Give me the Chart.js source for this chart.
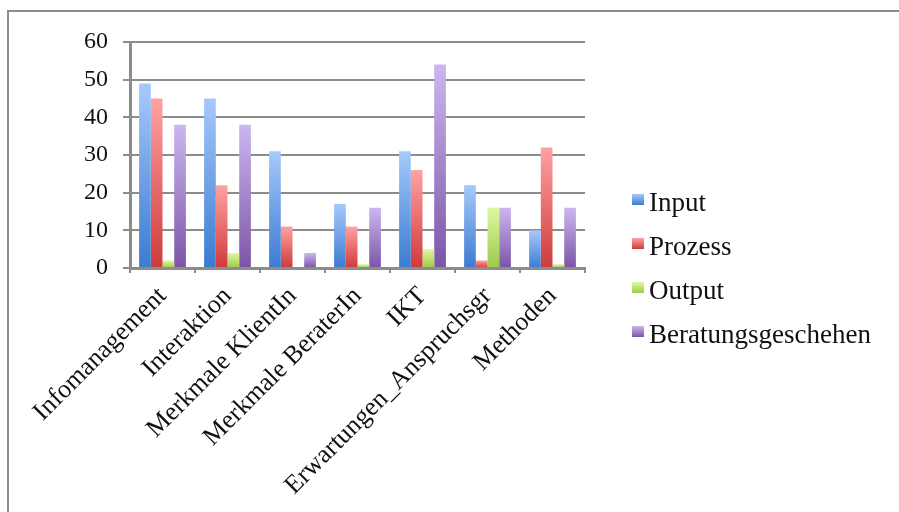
<!DOCTYPE html>
<html>
<head>
<meta charset="utf-8">
<script src="https://cdn.jsdelivr.net/npm/chart.js@4/dist/chart.umd.min.js"></script>
<style>
  html, body { margin: 0; padding: 0; background: #fff; overflow: hidden; }
  #wrap { position: relative; width: 899px; height: 512px; }
  #frame {
    position: absolute; left: 7px; top: 10px; width: 1000px; height: 600px;
    border-top: 2px solid #8c8c8c; border-left: 2px solid #8c8c8c;
  }
  #chart { position: absolute; left: 0; top: 0; }
  #legend {
    position: absolute; left: 632px; top: 189px;
    font-family: 'Liberation Serif', 'Times New Roman', serif;
    font-size: 27px; color: #111;
  }
  #legend .item { display: flex; align-items: center; height: 26px; margin-bottom: 18px; white-space: nowrap; }
  #legend .box { width: 12px; height: 11px; margin-right: 5px; margin-top: -6px; }
</style>
</head>
<body>
<div id="wrap">
  <div id="frame"></div>
  <canvas id="chart" width="899" height="512"></canvas>
  <div id="legend"></div>
</div>
<script>
const categories = [
  "Infomanagement",
  "Interaktion",
  "Merkmale KlientIn",
  "Merkmale BeraterIn",
  "IKT",
  "Erwartungen_Anspruchsgr",
  "Methoden",
];
const seriesNames = ["Input", "Prozess", "Output", "Beratungsgeschehen"];
const inputValues = [49, 45, 31, 17, 31, 22, 10];
const prozessValues = [45, 22, 11, 11, 26, 2, 32];
const outputValues = [2, 4, 0, 1, 5, 16, 1];
const beratungValues = [38, 38, 4, 16, 54, 16, 16];
const yTicks = [0, 10, 20, 30, 40, 50, 60];

// light top, dark bottom, like the office-style bars
const seriesColors = [
  ["#a6c9fb", "#3b7bd1"],
  ["#ffa2a2", "#cf3a3a"],
  ["#ddf8a2", "#9cca48"],
  ["#ccb6ef", "#7b55a6"],
];

function barFill(top, bottom) {
  return (ctx) => {
    const chart = ctx.chart;
    if (ctx.type !== "data" || !chart.chartArea) return bottom;
    const y = chart.scales.y;
    const y0 = y.getPixelForValue(ctx.raw);
    const y1 = y.getPixelForValue(0);
    if (y1 - y0 < 1) return bottom;
    const g = chart.ctx.createLinearGradient(0, y0, 0, y1);
    g.addColorStop(0, top);
    g.addColorStop(1, bottom);
    return g;
  };
}

const allValues = [inputValues, prozessValues, outputValues, beratungValues];
const serif = "'Liberation Serif', 'Times New Roman', serif";

const chart = new Chart(document.getElementById("chart"), {
  type: "bar",
  data: {
    labels: categories,
    datasets: seriesNames.map((name, i) => ({
      label: name,
      data: allValues[i],
      backgroundColor: barFill(seriesColors[i][0], seriesColors[i][1]),
      borderWidth: 0,
      categoryPercentage: 0.72,
      barPercentage: 1,
    })),
  },
  options: {
    responsive: false,
    animation: false,
    layout: { padding: { left: 0, top: 42, right: 314, bottom: 0 } },
    plugins: {
      tooltip: { enabled: false },
      legend: { display: false },
    },
    scales: {
      y: {
        min: 0,
        max: 60,
        afterBuildTicks: (s) => { s.ticks = yTicks.map((v) => ({ value: v })); },
        afterFit: (s) => { s.width = 130; },
        ticks: {
          color: "#111",
          padding: 15,
          font: { family: serif, size: 24 },
        },
        grid: { color: "#8c8c8c", lineWidth: 2, tickLength: 7 },
        border: { color: "#8c8c8c", width: 3 },
      },
      x: {
        afterFit: (s) => { s.height = 244; },
        ticks: {
          color: "#111",
          autoSkip: false,
          minRotation: 45,
          maxRotation: 45,
          padding: 8,
          font: { family: serif, size: 26 },
        },
        grid: { drawOnChartArea: false, color: "#8c8c8c", lineWidth: 2, tickLength: 5 },
        border: { color: "#8c8c8c", width: 3 },
      },
    },
  },
});

// legend on the right, same order as the datasets
const legendEl = document.getElementById("legend");
seriesNames.forEach((name, i) => {
  const item = document.createElement("div");
  item.className = "item";
  const box = document.createElement("span");
  box.className = "box";
  box.style.background = `linear-gradient(${seriesColors[i][0]}, ${seriesColors[i][1]})`;
  const text = document.createElement("span");
  text.textContent = name;
  item.appendChild(box);
  item.appendChild(text);
  legendEl.appendChild(item);
});
</script>
</body>
</html>
